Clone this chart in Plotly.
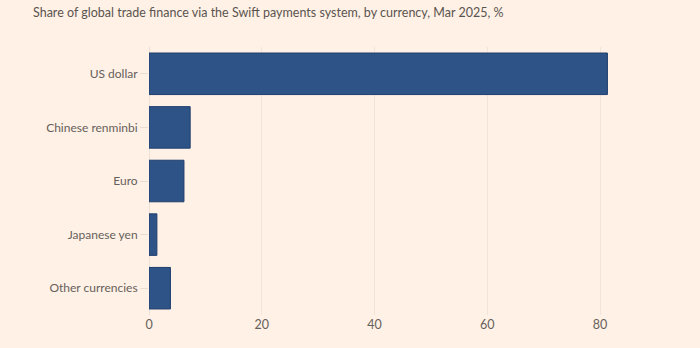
import plotly.graph_objects as go

# Share of global trade finance on Swift, Mar 2025 (%)
currencies = ["US dollar", "Chinese renminbi", "Euro", "Japanese yen", "Other currencies"]
shares = [81.3, 7.3, 6.2, 1.4, 3.8]
x_ticks = [0, 20, 40, 60, 80]

BG = "#FFF1E5"
BAR = "#2E5386"
TEXT = "#66605C"

fig = go.Figure(
    go.Bar(
        x=shares,
        y=currencies,
        orientation="h",
        marker=dict(color=BAR, line=dict(color="#1F3E6E", width=1)),
        hoverinfo="x+y",
    )
)

fig.update_layout(
    width=700,
    height=348,
    paper_bgcolor=BG,
    plot_bgcolor=BG,
    margin=dict(l=149, r=83, t=47, b=33),
    bargap=0.225,
    showlegend=False,
    font=dict(family="Lato, Roboto, sans-serif", size=12, color=TEXT),
    title=dict(
        text="Share of global trade finance via the Swift payments system, by currency, Mar 2025, %",
        font=dict(family="Lato, Roboto, sans-serif", size=12.5, color="#5A5450"),
        xref="container",
        yref="container",
        x=33 / 700,
        xanchor="left",
        y=1 - 13 / 348,
        yanchor="middle",
    ),
)

fig.update_xaxes(
    range=[0, 83],
    tickvals=x_ticks,
    ticktext=[str(v) for v in x_ticks],
    showgrid=True,
    gridcolor="#F1E4D8",
    gridwidth=1,
    zeroline=True,
    zerolinecolor="#EDE0D4",
    zerolinewidth=1,
    showline=False,
    ticks="",
    tickfont=dict(size=12.5, color=TEXT),
    fixedrange=True,
)

fig.update_yaxes(
    categoryorder="array",
    categoryarray=currencies[::-1],
    showgrid=False,
    zeroline=False,
    showline=False,
    ticks="outside",
    ticklen=8,
    tickcolor="#E9DDD2",
    tickfont=dict(size=12, color=TEXT),
    fixedrange=True,
)

fig.write_html("out.html")
